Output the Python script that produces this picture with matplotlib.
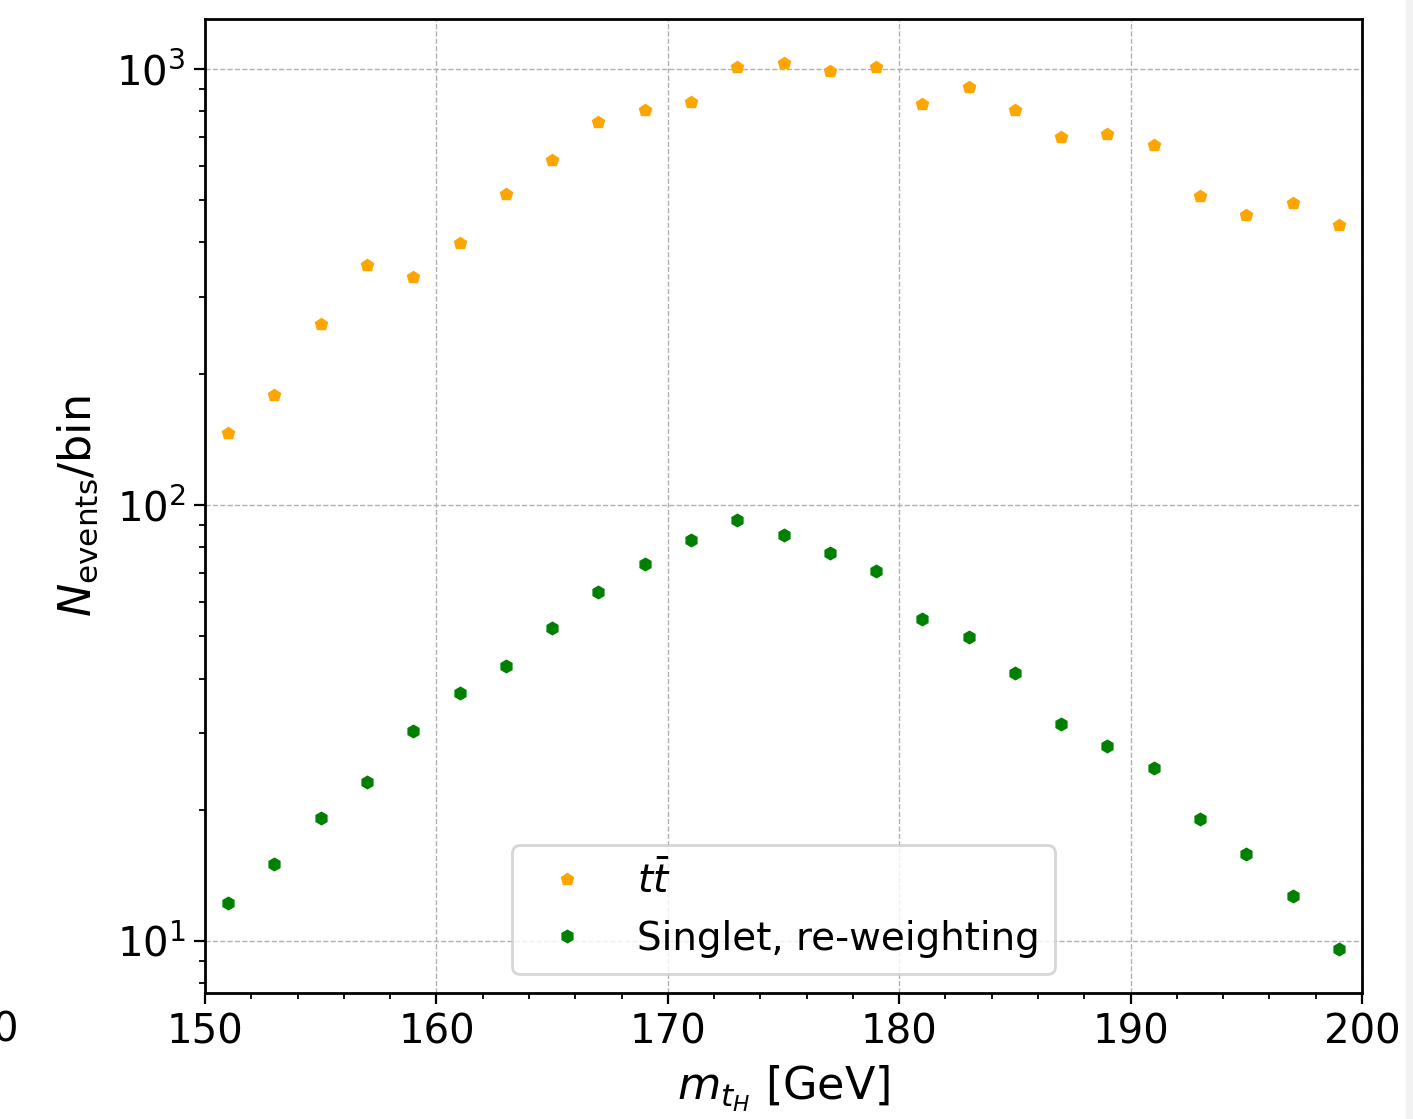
import matplotlib
matplotlib.use("Agg")
import matplotlib.pyplot as plt
from matplotlib.ticker import MultipleLocator
from matplotlib.patches import Rectangle

mass = [151, 153, 155, 157, 159, 161, 163, 165, 167, 169, 171, 173, 175,
        177, 179, 181, 183, 185, 187, 189, 191, 193, 195, 197, 199]
ttbar = [146, 179, 260, 355, 333, 399, 517, 618, 756, 805, 840, 1011, 1032,
         990, 1011, 831, 909, 805, 698, 709, 669, 511, 463, 493, 439]
singlet = [12.2, 15.0, 19.1, 23.2, 30.3, 37.0, 42.7, 52.2, 63.1, 73.1, 83.1, 92.4, 85.3,
           77.6, 70.6, 54.8, 49.8, 41.2, 31.5, 28.0, 24.9, 19.0, 15.8, 12.7, 9.6]
labels = [r"$t\bar{t}$", "Singlet, re-weighting"]

W, H = 1413, 1119
fig = plt.figure(figsize=(W / 100, H / 100), dpi=100)
ax = fig.add_axes([205 / W, 1 - 993 / H, (1362 - 205) / W, (993 - 19) / H])

ax.plot(mass, ttbar, linestyle="none", marker="p", color="orange", markersize=9, label=labels[0])
ax.plot(mass, singlet, linestyle="none", marker="h", color="green", markersize=9, label=labels[1])

ax.set_yscale("log")
ax.set_xlim(150, 200)
ax.set_ylim(7.6, 1302)
ax.xaxis.set_major_locator(MultipleLocator(10))
ax.xaxis.set_minor_locator(MultipleLocator(2))

ax.grid(True, which="major", linestyle="--", color="#b0b0b0", linewidth=1.0)
for s in ax.spines.values():
    s.set_linewidth(2.0)
ax.tick_params(axis="both", which="major", labelsize=29, length=8, width=1.6, pad=6)
ax.tick_params(axis="both", which="minor", length=4.5, width=1.3)

ax.set_xlabel(r"$m_{t_H}$ [GeV]", fontsize=32, labelpad=8)
ax.set_ylabel(r"$N_{\rm events}$/bin", fontsize=32, labelpad=12)

leg = ax.legend(loc="lower center", fontsize=28, framealpha=0.8, edgecolor="#cccccc",
                handletextpad=0.8, borderpad=0.4)
leg.get_frame().set_linewidth(2.0)

fig.text(18 / W, 1 - 1030 / H, "0", fontsize=29, ha="right", va="center")
fig.patches.append(Rectangle((1406 / W, 0), 7 / W, 1, transform=fig.transFigure,
                             facecolor="#f2f2f2", edgecolor="none"))

fig.savefig("out.png", dpi=100)
